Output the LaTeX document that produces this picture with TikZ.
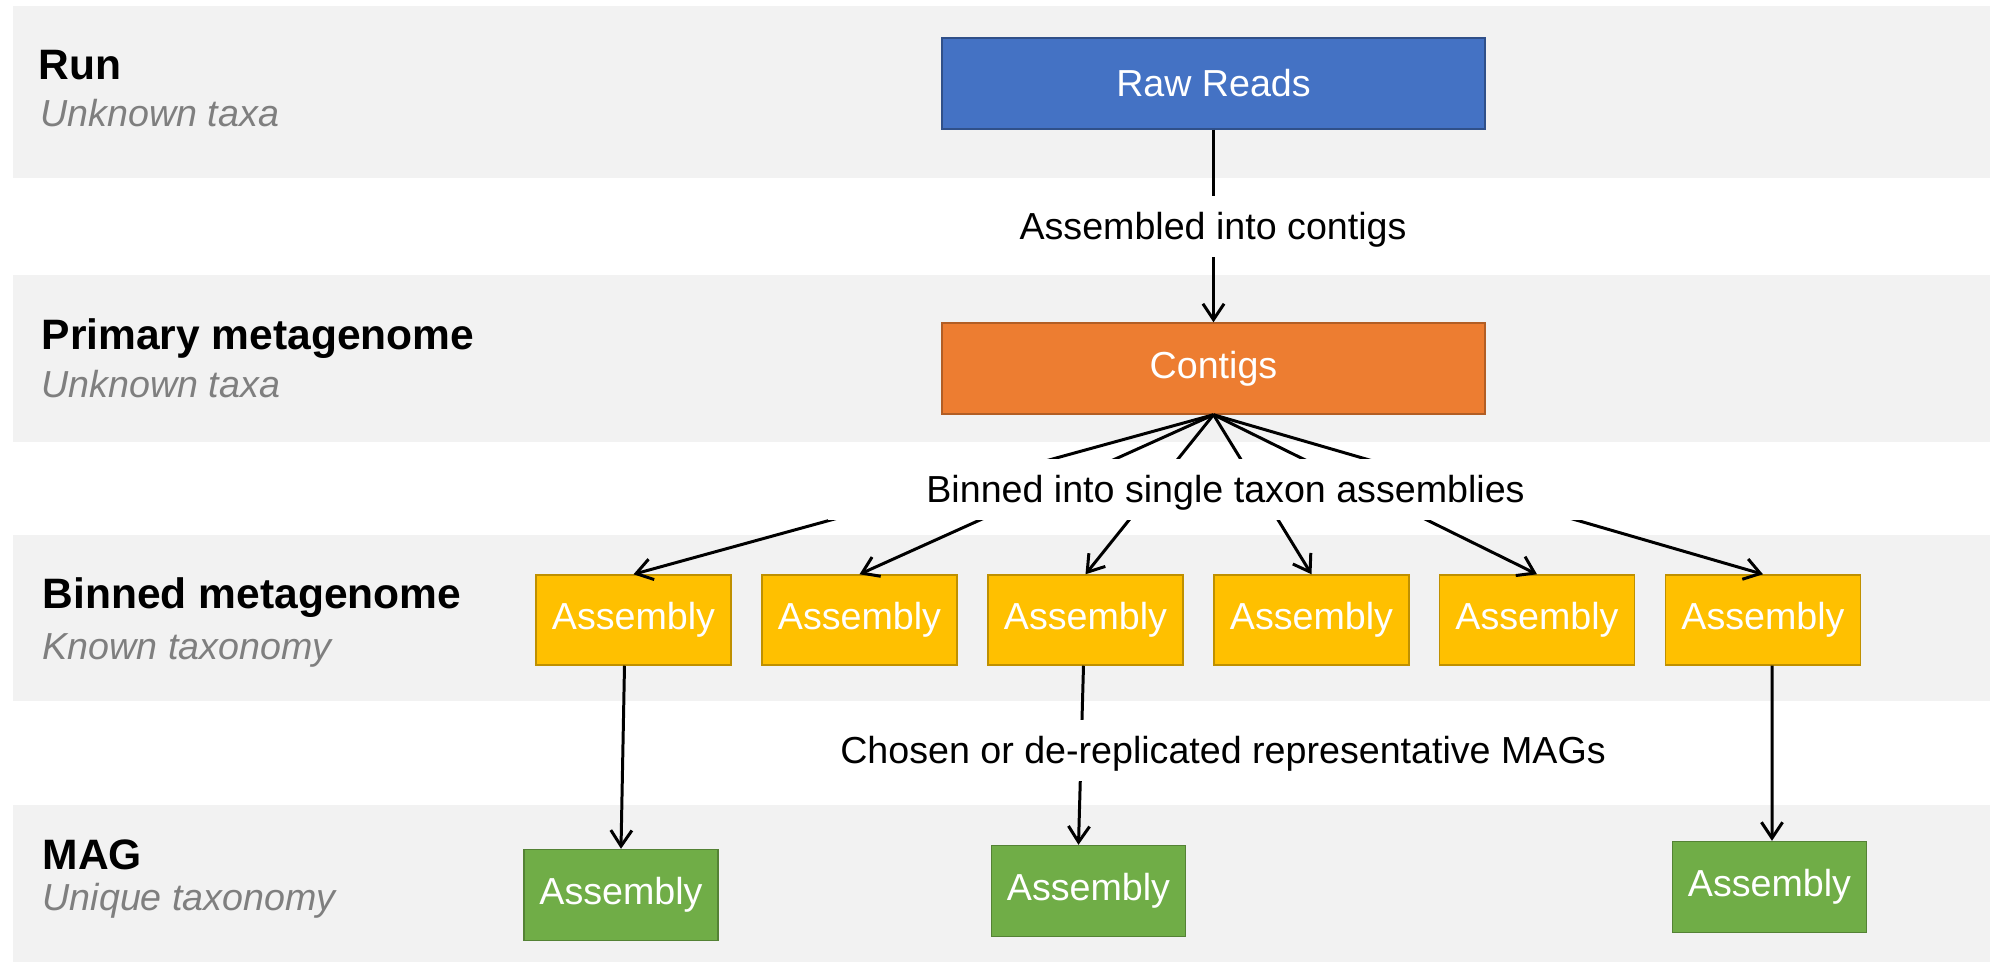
\documentclass[tikz,border=0pt]{standalone}
\usepackage{fontspec}
\setmainfont{Liberation Sans}
\usetikzlibrary{arrows.meta}
\definecolor{bandgray}{HTML}{F2F2F2}
\definecolor{rawblue}{HTML}{4472C4}
\definecolor{contigorange}{HTML}{ED7D31}
\definecolor{binyellow}{HTML}{FFC000}
\definecolor{maggreen}{HTML}{70AD47}
\definecolor{notegray}{HTML}{7F7F7F}

\begin{document}
\begin{tikzpicture}[
  x=0.01cm, y=-0.01cm,
  every node/.style={font=\fontsize{10.7}{12.8}\selectfont},
  band/.style={fill=bandgray},
  tier/.style={anchor=base west, inner sep=0pt, font=\fontsize{12.1}{14.5}\selectfont\bfseries},
  note/.style={anchor=base west, inner sep=0pt, text=notegray,
               font=\fontsize{10.7}{12.8}\selectfont\itshape},
  raw/.style={draw=rawblue!70!black, fill=rawblue, text=white, line width=0.4pt,
              minimum width=5.43cm, minimum height=0.91cm},
  contig/.style={draw=contigorange!75!black, fill=contigorange, text=white, line width=0.4pt,
                 minimum width=5.43cm, minimum height=0.91cm},
  bin/.style={draw=binyellow!75!black, fill=binyellow, text=white, line width=0.4pt,
              minimum width=1.95cm, minimum height=0.9cm},
  mag/.style={draw=maggreen!75!black, fill=maggreen, text=white, line width=0.4pt,
              minimum width=1.94cm, minimum height=0.91cm},
  gap/.style={anchor=base, fill=white, inner xsep=28pt, inner ysep=0pt,
              text height=12.2pt, text depth=5pt},
  flow/.style={-{Straight Barb[length=4.5pt,width=6pt]}, line width=0.85pt}
]
  \useasboundingbox (0,0) rectangle (1990,963);

  % tiers
  \fill[band] (13,6)   rectangle (1990,178);
  \fill[band] (13,275) rectangle (1990,442);
  \fill[band] (13,535) rectangle (1990,701);
  \fill[band] (13,805) rectangle (1990,962);

  \node[tier] (run)     at (38,79)  {Run};
  \node[note] (runtx)   at (40,126) {Unknown taxa};
  \node[tier] (primary) at (41,349) {Primary metagenome};
  \node[note] (primtx)  at (41,397) {Unknown taxa};
  \node[tier] (binned)  at (42,608) {Binned metagenome};
  \node[note] (bintx)   at (42,659) {Known taxonomy};
  \node[tier] (magt)    at (42,869) {MAG};
  \node[note] (magtx)   at (42,910) {Unique taxonomy};

  % boxes
  \node[raw]    (reads)   at (1213.5,83.5)  {Raw Reads};
  \node[contig] (contigs) at (1213.5,368.5) {Contigs};
  \foreach \px [count=\i] in {633.5,859.5,1085.5,1311.5,1537,1763}
    \node[bin] (y\i) at (\px,620) {Assembly};
  \node[mag] (g1) at (621,895)    {Assembly};
  \node[mag] (g2) at (1088.5,891) {Assembly};
  \node[mag] (g3) at (1769.5,887) {Assembly};

  % connectors
  \draw[flow] (reads) -- (contigs);
  \foreach \i in {1,...,6}
    \draw[flow] (contigs.south) -- (y\i.north);
  \draw[flow] ([xshift=-0.09cm]y1.south) -- (g1.north);
  \draw[flow] ([xshift=-0.02cm]y3.south) -- ([xshift=-0.1cm]g2.north);
  \draw[flow] ([xshift=0.09cm]y6.south) -- ([xshift=0.025cm]g3.north);

  % step labels
  \node[gap] (assembled) at (1213,239)   {Assembled into contigs};
  \node[gap] (binning)   at (1225.5,502) {Binned into single taxon assemblies};
  \node[gap] (chosen)    at (1223,763)   {Chosen or de-replicated representative MAGs};
\end{tikzpicture}
\end{document}
